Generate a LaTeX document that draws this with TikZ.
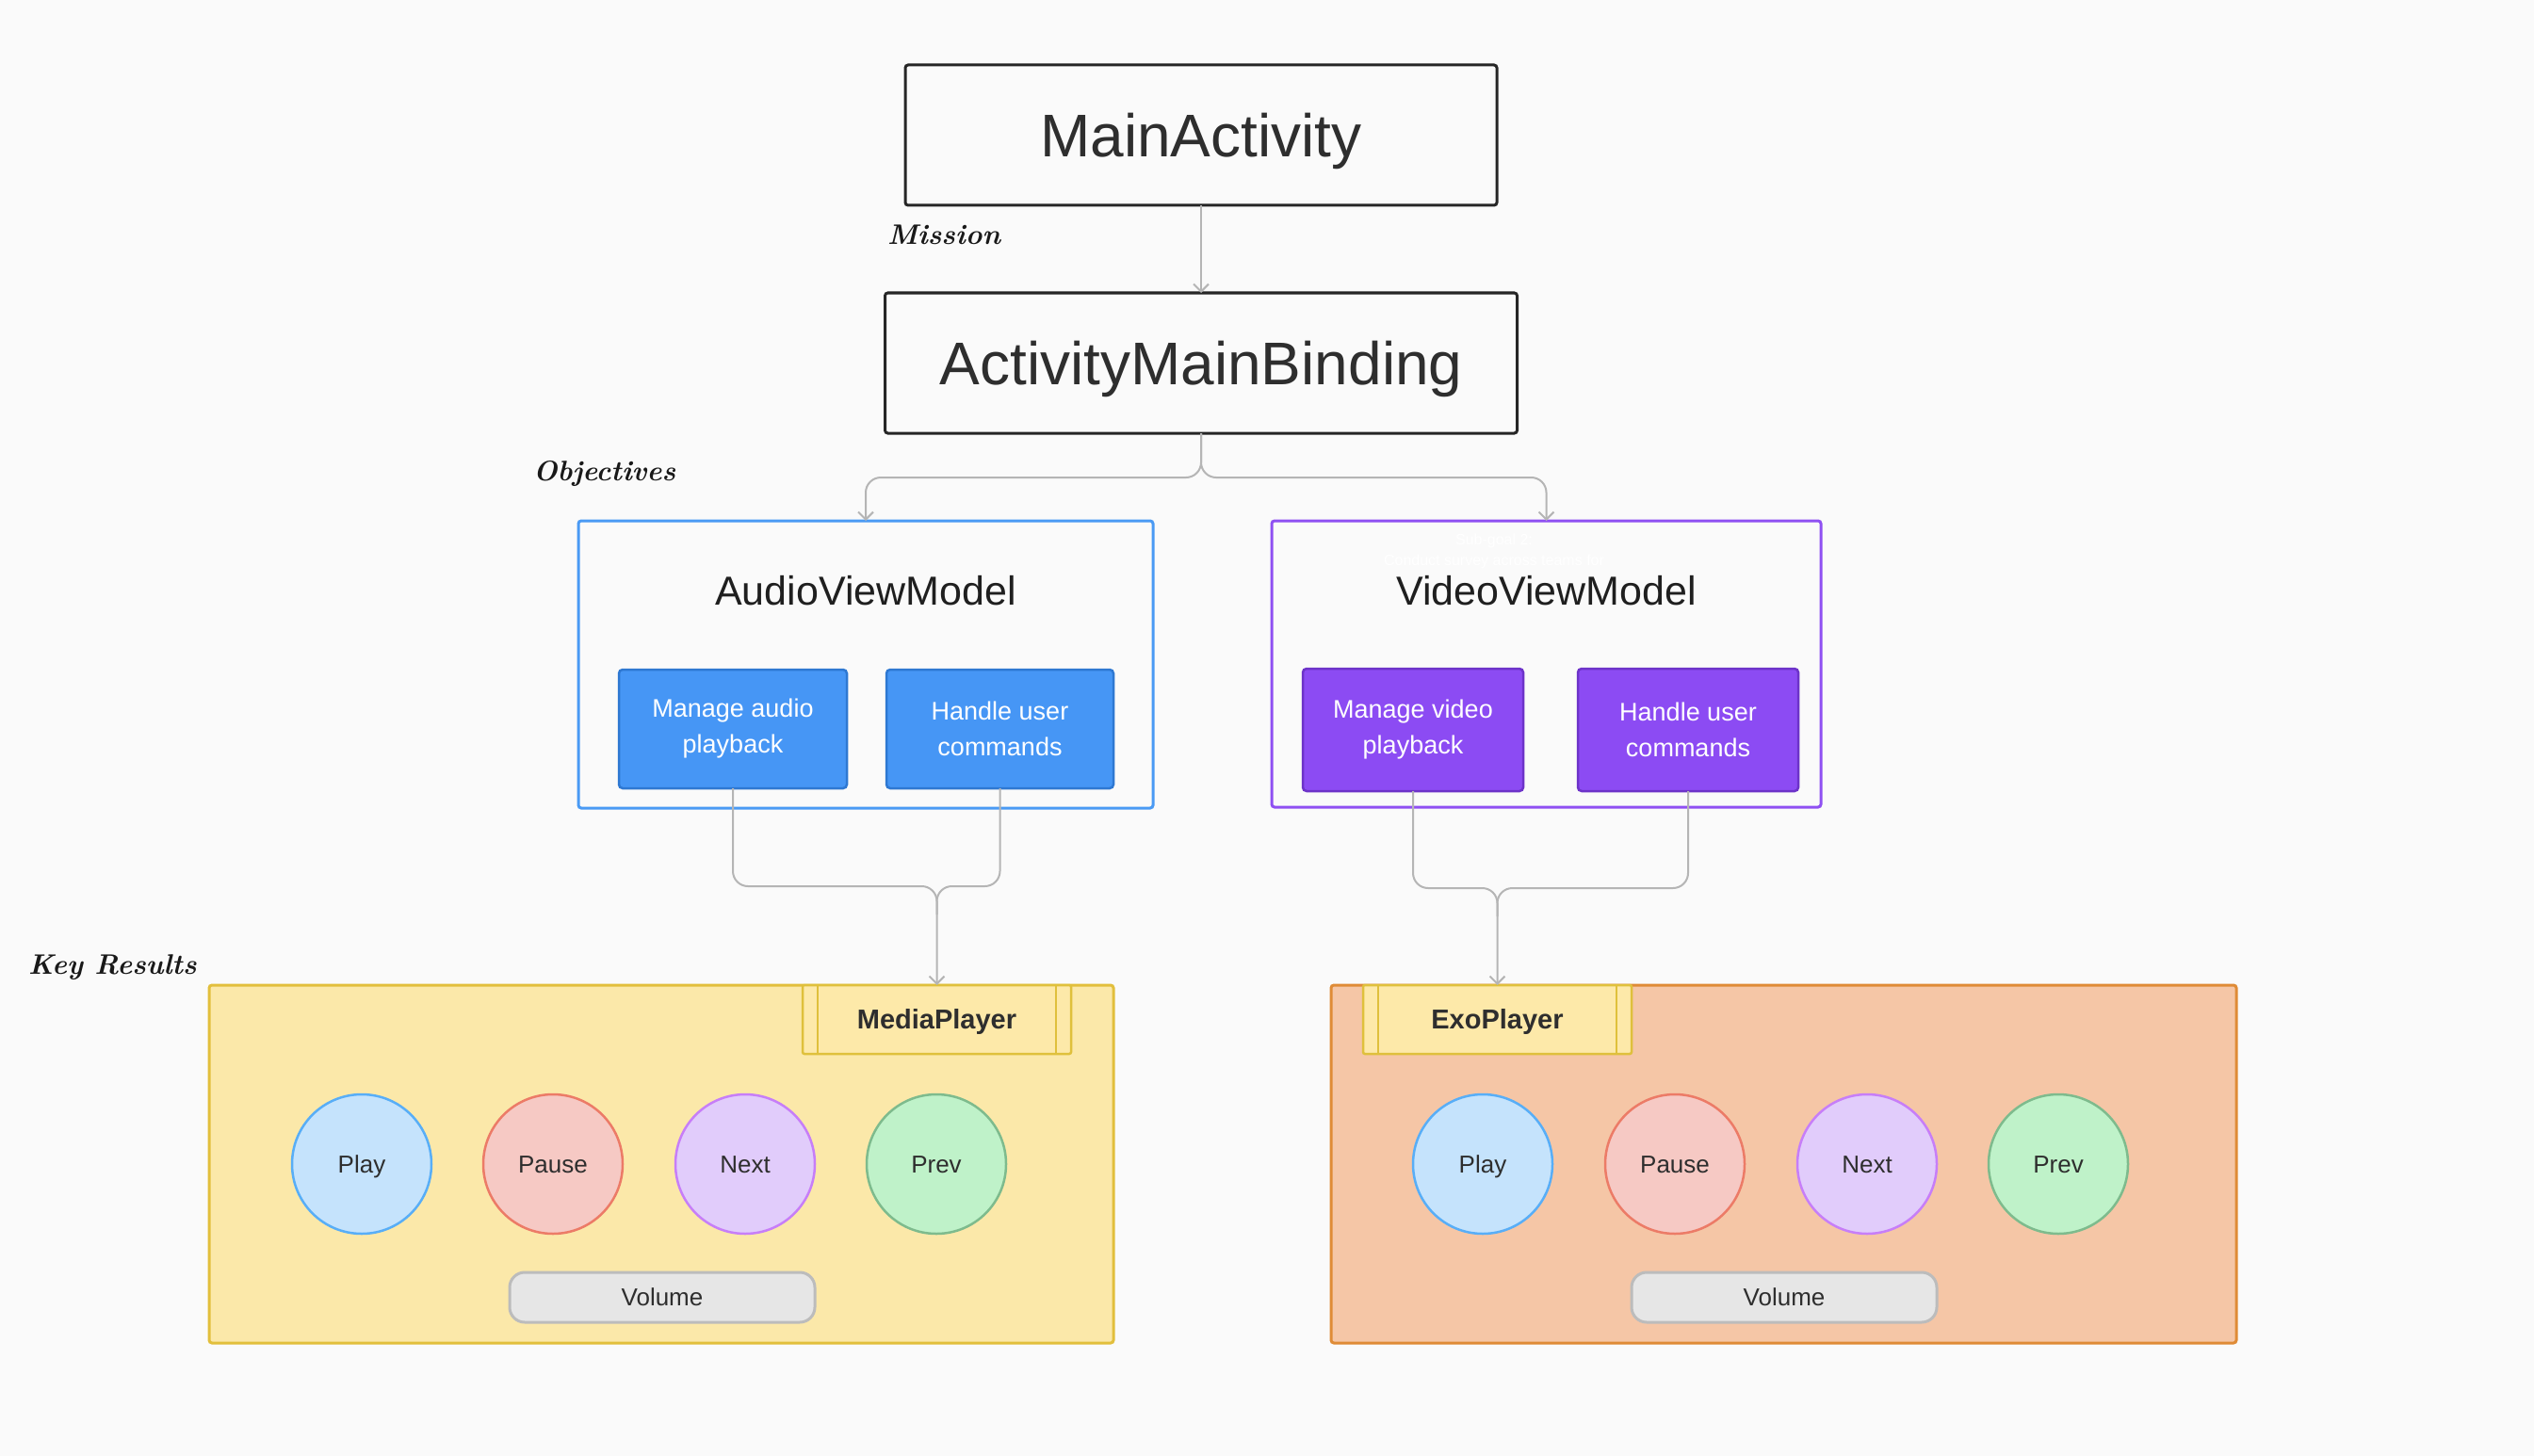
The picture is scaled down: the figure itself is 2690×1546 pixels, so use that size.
\documentclass[tikz,border=0pt]{standalone}
\usepackage{fontspec}
\setsansfont{Liberation Sans}
\usetikzlibrary{arrows.meta,calc}
\definecolor{bg}{HTML}{FAFAFA}
\definecolor{darkline}{HTML}{262626}
\definecolor{txt}{HTML}{2E2E2E}
\definecolor{connc}{HTML}{B5B5B5}
\definecolor{bluec}{HTML}{4A9AF4}
\definecolor{bluefill}{HTML}{4696F5}
\definecolor{blueborder}{HTML}{2E78D2}
\definecolor{purplec}{HTML}{8F50F2}
\definecolor{purplefill}{HTML}{8C4BF3}
\definecolor{purpleborder}{HTML}{6D33C9}
\definecolor{yfill}{HTML}{FBE8A9}
\definecolor{ybord}{HTML}{E2BF3C}
\definecolor{ofill}{HTML}{F5C6A6}
\definecolor{obord}{HTML}{DF8B36}
\definecolor{labfill}{HTML}{FDE9A9}
\definecolor{labbord}{HTML}{DFC03C}
\definecolor{playf}{HTML}{C5E3FC}
\definecolor{playb}{HTML}{58AEF7}
\definecolor{pausef}{HTML}{F6C9C4}
\definecolor{pauseb}{HTML}{EC7B67}
\definecolor{nextf}{HTML}{E1CCFB}
\definecolor{nextb}{HTML}{C77EF8}
\definecolor{prevf}{HTML}{BFF2C9}
\definecolor{prevb}{HTML}{7EBB8D}
\definecolor{volf}{HTML}{E6E6E6}
\definecolor{volb}{HTML}{BCBCBC}
\begin{document}
\begin{tikzpicture}[x=1pt,y=-1pt,
  every node/.style={inner sep=0pt, outer sep=0pt},
  bigtxt/.style={font=\sffamily\fontsize{64}{77}\selectfont, text=txt, text height=45.8pt, text depth=0pt},
  titlebox/.style={draw=darkline, line width=3pt, fill=bg, rounded corners=3pt},
  conn/.style={draw=connc, line width=2pt, rounded corners=16pt},
  tip/.style={-{Straight Barb[length=8pt,width=16pt]}},
  group/.style={line width=3pt, fill=bg, rounded corners=3pt},
  grouptitle/.style={font=\sffamily\fontsize{43}{52}\selectfont, text=black!88, text height=30.8pt, text depth=0pt},
  task/.style={line width=2.5pt, rounded corners=4pt, align=center, text=white,
    font=\sffamily\fontsize{27}{38}\selectfont},
  panel/.style={line width=3pt, rounded corners=3pt, minimum width=960pt, minimum height=380pt},
  lab/.style={draw=labbord, fill=labfill, line width=2.5pt, rounded corners=2pt,
    minimum width=285pt, minimum height=73pt},
  labtxt/.style={text=txt, font=\sffamily\bfseries\fontsize{29}{34}\selectfont, text height=20.8pt, text depth=0pt},
  btn/.style={circle, minimum size=148pt, line width=2.5pt},
  smalltxt/.style={text=txt, font=\sffamily\fontsize{26}{31}\selectfont, text height=18.6pt, text depth=0pt},
  vol/.style={draw=volb, fill=volf, rounded corners=16pt, line width=3pt,
    minimum width=324pt, minimum height=53pt},
  faint/.style={font=\sffamily\fontsize{16}{19}\selectfont, text=white},
  hand/.style={font=\rmfamily\bfseries\itshape\fontsize{30}{36}\selectfont, text=black!90, anchor=west}
]
\fill[bg] (0,0) rectangle (2690,1546);
\useasboundingbox (0,0) rectangle (2690,1546);

% handwritten labels
\node[hand] (mission) at (942,249) {Mission};
\node[hand] (objectives) at (566,503) {Objectives};
\node[hand] (keyresults) at (30,1027) {Key Results};

% top boxes
\node[titlebox, minimum width=628pt, minimum height=149pt] (ma) at (1275,143.5) {};
\node[bigtxt] (mat) at (ma.center) {MainActivity};
\node[titlebox, minimum width=671pt, minimum height=149pt] (amb) at (1275,385.5) {};
\node[bigtxt] (ambt) at (amb.center) {ActivityMainBinding};
\draw[conn, tip] (ma.south) -- (ma.south |- amb.north);

% objective groups
\node[group, draw=bluec, minimum width=610pt, minimum height=305pt] (avm) at (919,705.5) {};
\node[grouptitle] (avmt) at (919,627) {AudioViewModel};
\node[group, draw=purplec, minimum width=583pt, minimum height=304pt] (vvm) at (1641.5,705) {};
\node[faint] (sg) at (1586,574) {Sub-goal 2:};
\node[faint] (cs) at (1586,596) {Conduct survey across teams for};
\node[grouptitle] (vvmt) at (1641.5,627) {VideoViewModel};

\coordinate (bj) at (1275,507);
\draw[conn, tip] (amb.south) -- (bj) -| (avm.north);
\draw[conn, tip] (amb.south) -- (bj) -| (vvm.north);

% tasks
\node[task, draw=blueborder, fill=bluefill, minimum width=242pt, minimum height=126pt] (map) at (778,774) {Manage audio\\playback};
\node[task, draw=blueborder, fill=bluefill, minimum width=241pt, minimum height=126pt] (hua) at (1061.5,774) {Handle user\\commands};
\node[task, draw=purpleborder, fill=purplefill, minimum width=234pt, minimum height=130pt] (mvp) at (1500,775) {Manage video\\playback};
\node[task, draw=purpleborder, fill=purplefill, minimum width=234pt, minimum height=130pt] (huv) at (1792,775) {Handle user\\commands};

% key result panels
\node[panel, draw=ybord, fill=yfill] (yp) at (702,1236) {};
\node[panel, draw=obord, fill=ofill, minimum width=961pt] (op) at (1893.5,1236) {};

\node[lab] (mp) at (994.5,1082.5) {};
\node[labtxt] (mpt) at (mp.center) {MediaPlayer};
\draw[labbord, line width=2.5pt] ($(mp.north west)+(16,0)$) -- ($(mp.south west)+(16,0)$);
\draw[labbord, line width=2.5pt] ($(mp.north east)+(-16,0)$) -- ($(mp.south east)+(-16,0)$);
\node[lab] (exo) at (1589.5,1082.5) {};
\node[labtxt] (exot) at (exo.center) {ExoPlayer};
\draw[labbord, line width=2.5pt] ($(exo.north west)+(16,0)$) -- ($(exo.south west)+(16,0)$);
\draw[labbord, line width=2.5pt] ($(exo.north east)+(-16,0)$) -- ($(exo.south east)+(-16,0)$);

\coordinate (aj) at (994.5,941);
\draw[conn, tip] (map.south) |- (aj) -- (mp.north);
\draw[conn] (hua.south) |- (aj) -- ($(aj)+(0,30)$);
\coordinate (vj) at (1589.5,943);
\draw[conn, tip] (mvp.south) |- (vj) -- (exo.north);
\draw[conn] (huv.south) |- (vj) -- ($(vj)+(0,30)$);

% buttons
\node[btn, draw=playb, fill=playf] (play1) at (384,1236) {};
\node[smalltxt] at (play1.center) {Play};
\node[btn, draw=pauseb, fill=pausef] (pause1) at (587,1236) {};
\node[smalltxt] at (pause1.center) {Pause};
\node[btn, draw=nextb, fill=nextf] (next1) at (791,1236) {};
\node[smalltxt] at (next1.center) {Next};
\node[btn, draw=prevb, fill=prevf] (prev1) at (994,1236) {};
\node[smalltxt] at (prev1.center) {Prev};
\node[vol] (vol1) at (703,1377.5) {};
\node[smalltxt] at (vol1.center) {Volume};

\node[btn, draw=playb, fill=playf] (play2) at (1574,1236) {};
\node[smalltxt] at (play2.center) {Play};
\node[btn, draw=pauseb, fill=pausef] (pause2) at (1778,1236) {};
\node[smalltxt] at (pause2.center) {Pause};
\node[btn, draw=nextb, fill=nextf] (next2) at (1982,1236) {};
\node[smalltxt] at (next2.center) {Next};
\node[btn, draw=prevb, fill=prevf] (prev2) at (2185,1236) {};
\node[smalltxt] at (prev2.center) {Prev};
\node[vol] (vol2) at (1894,1377.5) {};
\node[smalltxt] at (vol2.center) {Volume};
\end{tikzpicture}
\end{document}
